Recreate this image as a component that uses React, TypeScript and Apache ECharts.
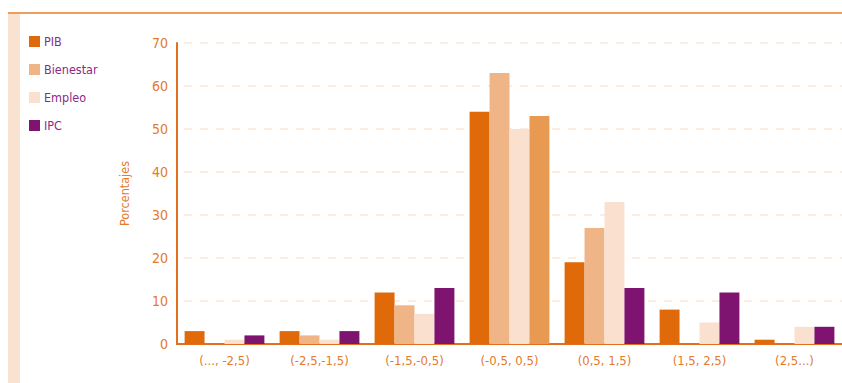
import React, { useEffect, useRef } from "react";
import * as echarts from "echarts";

const categories = ["(..., -2,5)", "(-2,5,-1,5)", "(-1,5,-0,5)", "(-0,5, 0,5)", "(0,5, 1,5)", "(1,5, 2,5)", "(2,5...)"];
const pib = [3, 3, 12, 54, 19, 8, 1];
const bienestar = [0, 2, 9, 63, 27, 0, 0];
const empleo = [1, 1, 7, 50, 33, 5, 4];
const ipc = [2, 3, 13, 53, 13, 12, 4];
const yTicks = [0, 10, 20, 30, 40, 50, 60, 70];

const FONT = "'Liberation Sans Narrow', 'DejaVu Sans Condensed', 'Liberation Sans', sans-serif";
const ORANGE = "#E2701C";

export default function App() {
  const ref = useRef<HTMLDivElement>(null);
  useEffect(() => {
    document.body.style.margin = "0";
    const chart = echarts.init(ref.current!, null, { renderer: "svg" });
    const barBase = { type: "bar", barGap: "0%", barCategoryGap: "16%" };
    chart.setOption({
      animation: false,
      backgroundColor: "#ffffff",
      textStyle: { fontFamily: FONT },
      graphic: [
        { type: "rect", shape: { x: 8, y: 12, width: 834, height: 2 }, style: { fill: "#EE9D5C" } },
        { type: "rect", shape: { x: 8, y: 14, width: 12, height: 369 }, style: { fill: "#FAE2D1" } },
      ],
      legend: {
        orient: "vertical",
        left: 29,
        top: 35,
        padding: 0,
        itemWidth: 11,
        itemHeight: 11,
        itemGap: 15,
        icon: "rect",
        textStyle: { color: "#8B2A86", fontSize: 12.5, fontFamily: FONT, padding: [0, 0, 0, -1] },
        data: ["PIB", "Bienestar", "Empleo", "IPC"],
      },
      grid: { left: 177, right: 0, top: 43, bottom: 39 },
      xAxis: {
        type: "category",
        data: categories,
        axisLine: { lineStyle: { color: ORANGE, width: 2 } },
        axisTick: { show: false },
        axisLabel: { color: "#E57A2C", fontSize: 13, fontFamily: FONT, margin: 10 },
      },
      yAxis: {
        type: "value",
        min: 0,
        max: 70,
        interval: 10,
        name: "Porcentajes",
        nameLocation: "middle",
        nameGap: 46,
        nameTextStyle: { color: "#E57A2C", fontSize: 12.5, fontFamily: FONT },
        axisLine: { show: true, lineStyle: { color: ORANGE, width: 2 } },
        axisTick: { show: false },
        axisLabel: {
          color: "#E57A2C",
          fontSize: 14,
          fontFamily: FONT,
          margin: 9,
          formatter: (v: number) => (yTicks.includes(v) ? String(v) : ""),
        },
        splitLine: { lineStyle: { color: "#FBE7D9", type: [8, 8], dashOffset: -7, width: 1.5 } },
      },
      series: [
        { ...barBase, name: "PIB", data: pib, itemStyle: { color: "#E06A0A" } },
        { ...barBase, name: "Bienestar", data: bienestar, itemStyle: { color: "#F0B586" } },
        { ...barBase, name: "Empleo", data: empleo, itemStyle: { color: "#FAE1CF" } },
        {
          ...barBase,
          name: "IPC",
          data: ipc.map((v, i) => (i === 3 ? { value: v, itemStyle: { color: "#E99A52" } } : v)),
          itemStyle: { color: "#7E1470" },
        },
      ],
    });
    return () => chart.dispose();
  }, []);
  return <div ref={ref} style={{ width: 842, height: 383 }} />;
}
